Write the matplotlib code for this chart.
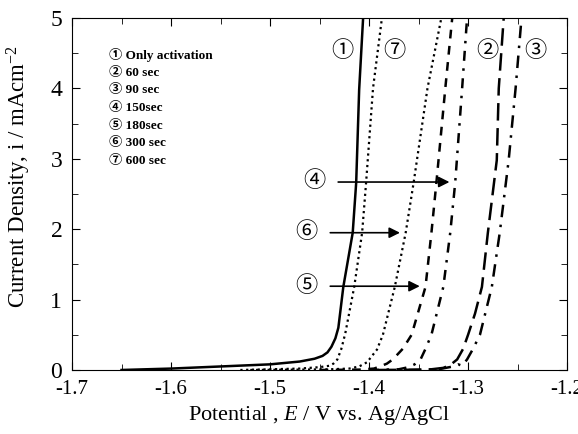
import matplotlib.pyplot as plt
from matplotlib.ticker import MultipleLocator

plt.rcParams['font.family'] = ['Liberation Serif', 'Noto Sans CJK JP']
plt.rcParams['mathtext.fontset'] = 'custom'
plt.rcParams['mathtext.it'] = 'Liberation Serif:italic'
plt.rcParams['mathtext.rm'] = 'Liberation Serif'

# polarization curves, potential (V vs Ag/AgCl) and current density (mA/cm2)
v1 = [-1.65, -1.6, -1.55, -1.5, -1.47, -1.455, -1.447, -1.442, -1.438, -1.434, -1.431,
      -1.426, -1.4165, -1.413, -1.410, -1.406]
i1 = [0.0, 0.02, 0.05, 0.08, 0.12, 0.16, 0.2, 0.25, 0.33, 0.45, 0.6,
      1.18, 1.95, 2.66, 3.98, 5.0]

v2 = [-1.39, -1.34, -1.325, -1.318, -1.311, -1.305, -1.300, -1.293, -1.286, -1.280, -1.271, -1.269, -1.264]
i2 = [0.0, 0.005, 0.03, 0.07, 0.15, 0.3, 0.5, 0.8, 1.18, 1.95, 2.98, 4.0, 5.0]

v3 = [-1.36, -1.33, -1.315, -1.31, -1.306, -1.301, -1.295, -1.288, -1.276, -1.268, -1.259, -1.252, -1.246]
i3 = [0.0, 0.01, 0.05, 0.08, 0.06, 0.15, 0.3, 0.5, 1.18, 1.95, 2.98, 4.0, 5.0]

v4 = [-1.40, -1.37, -1.36, -1.354, -1.348, -1.343, -1.337, -1.325, -1.318, -1.313, -1.306, -1.301]
i4 = [0.0, 0.01, 0.04, 0.08, 0.15, 0.3, 0.5, 1.18, 1.95, 2.66, 4.0, 5.0]

v5 = [-1.45, -1.41, -1.395, -1.389, -1.382, -1.376, -1.366, -1.357, -1.343, -1.337, -1.332, -1.323, -1.316]
i5 = [0.0, 0.005, 0.02, 0.05, 0.09, 0.15, 0.3, 0.5, 1.18, 1.95, 2.66, 4.0, 5.0]

v6 = [-1.52, -1.47, -1.44, -1.42, -1.41, -1.402, -1.392, -1.386, -1.374, -1.363, -1.355, -1.341, -1.327]
i6 = [0.0, 0.005, 0.01, 0.02, 0.05, 0.11, 0.29, 0.5, 1.18, 1.95, 2.66, 4.0, 5.0]

v7 = [-1.53, -1.5, -1.47, -1.45, -1.44, -1.436, -1.432, -1.428, -1.424, -1.415, -1.407, -1.403, -1.396, -1.387]
i7 = [0.0, 0.01, 0.02, 0.04, 0.06, 0.09, 0.15, 0.3, 0.52, 1.18, 1.95, 2.66, 4.0, 5.0]

legend_lines = ['① Only activation', '② 60 sec', '③ 90 sec', '④ 150sec',
                '⑤ 180sec', '⑥ 300 sec', '⑦ 600 sec']

fig = plt.figure(figsize=(5.78, 4.34), dpi=100)
ax = fig.add_axes([0.1246, 0.1475, 0.8565, 0.811])

ax.plot(v1, i1, color='black', lw=1.8)
ax.plot(v7, i7, color='black', lw=1.6, dashes=(1, 1.6))
ax.plot(v6, i6, color='black', lw=1.6, dashes=(1, 1.6))
ax.plot(v5, i5, color='black', lw=1.8, dashes=(3.5, 3))
ax.plot(v4, i4, color='black', lw=1.8, dashes=(4, 3, 1, 3))
ax.plot(v2, i2, color='black', lw=1.8, dashes=(7, 3))
ax.plot(v3, i3, color='black', lw=1.8, dashes=(5, 3, 1, 3))

ax.set_xlim(-1.7, -1.2)
ax.set_ylim(0, 5)
ax.set_xticks([-1.7, -1.6, -1.5, -1.4, -1.3, -1.2])
ax.set_xticklabels(['-1.7', '-1.6', '-1.5', '-1.4', '-1.3', '-1.2'])
ax.xaxis.set_minor_locator(MultipleLocator(0.05))
ax.yaxis.set_major_locator(MultipleLocator(1))
ax.yaxis.set_minor_locator(MultipleLocator(0.5))
ax.tick_params(which='both', direction='in', top=True, right=True)
ax.tick_params(which='major', length=6)
ax.tick_params(which='minor', length=4)
ax.tick_params(axis='x', labelsize=15, pad=7)
ax.tick_params(axis='y', labelsize=17, pad=7)

ax.set_xlabel('Potential , $E$ / V vs. Ag/AgCl', fontsize=16)
ax.set_ylabel('Current Density, i / mAcm$^{-2}$', fontsize=16.5)
ax.yaxis.set_label_coords(-0.078, 0.55)

for k, s in enumerate(legend_lines):
    ax.text(0.075, 0.895 - k * 0.0503, s, transform=ax.transAxes,
            fontsize=9.5, fontweight='bold', va='center')

for lab, x in [('①', -1.427), ('⑦', -1.374), ('②', -1.281), ('③', -1.232)]:
    ax.text(x, 4.53, lab, fontsize=16, ha='center', va='center')

for lab, y, x0, x1 in [('④', 2.67, -1.434, -1.316),
                       ('⑥', 1.95, -1.442, -1.366),
                       ('⑤', 1.19, -1.442, -1.346)]:
    ax.text(x0 - 0.021, y, lab, fontsize=16, ha='center', va='center')
    ax.annotate('', xy=(x1, y), xytext=(x0, y),
                arrowprops=dict(arrowstyle='-|>', color='black', lw=1.2,
                                mutation_scale=16))

fig.savefig('out.png', dpi=100)
